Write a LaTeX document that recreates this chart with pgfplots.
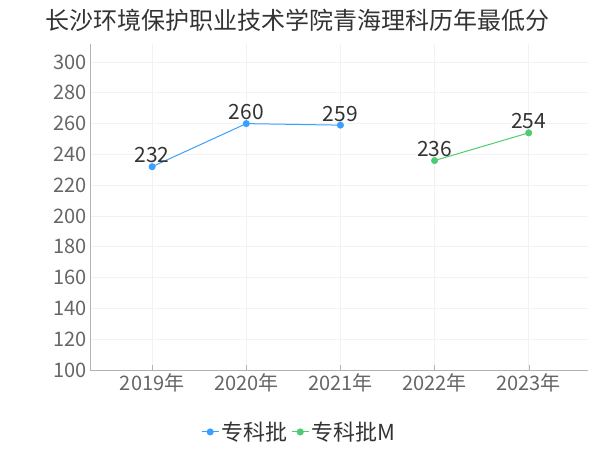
\documentclass[border=0pt]{standalone}
\usepackage{fontspec}
\setmainfont{Noto Sans CJK SC}
\usepackage{pgfplots}
\pgfplotsset{compat=1.18}
\definecolor{sblue}{RGB}{58,160,255}
\definecolor{sgreen}{RGB}{78,203,115}
\definecolor{labgray}{RGB}{51,51,51}
\definecolor{tickgray}{RGB}{102,102,102}
\definecolor{gridgray}{RGB}{242,242,242}
\begin{document}
\begin{tikzpicture}[x=1pt,y=1pt]
\useasboundingbox (-90,-80) rectangle (510,370);
\node[font=\fontsize{24}{28}\selectfont, text=labgray] at (208,350) {长沙环境保护职业技术学院青海理科历年最低分};
\begin{axis}[
  at={(0,0)}, anchor=south west,
  scale only axis, width=498pt, height=326pt,
  xmin=-0.66, xmax=4.63,
  ymin=100, ymax=311.7,
  ytick={100,120,...,300},
  xtick={0,1,2,3,4},
  xticklabels={2019年,2020年,2021年,2022年,2023年},
  /pgf/number format/assume math mode=true,
  ticklabel style={font=\fontsize{20}{24}\selectfont, text=tickgray},
  axis x line*=bottom, axis y line*=left,
  axis line style={draw=gray!60},
  x axis line style={-}, y axis line style={-},
  tick style={draw=gray!60},
  major tick length=5pt,
  ytick style={draw=none},
  grid=major, major grid style={draw=gridgray, line width=0.8pt},
  legend style={at={(0.42,-0.19)}, anchor=center, draw=none, fill=none,
    font=\fontsize{22}{26}\selectfont, text=labgray, legend columns=2,
    /tikz/every even column/.append style={column sep=2pt}},
  legend cell align=left,
  nodes near coords,
  every node near coord/.append style={font=\fontsize{21}{24}\selectfont, text=labgray, anchor=south, yshift=0pt},
  clip=false,
]
\addplot[color=sblue, line width=1pt, mark=*, mark size=3pt] coordinates {(0,232) (1,260) (2,259)};
\addplot[color=sgreen, line width=1pt, mark=*, mark size=3pt] coordinates {(3,236) (4,254)};
\legend{专科批,专科批M}
\end{axis}
\end{tikzpicture}
\end{document}
